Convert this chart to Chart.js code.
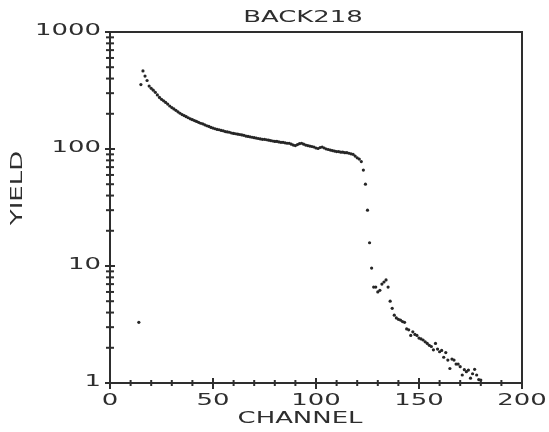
<!DOCTYPE html>
<html><head><meta charset="utf-8">
<script src="https://cdn.jsdelivr.net/npm/chart.js@4/dist/chart.umd.min.js"></script>
<style>html,body{margin:0;padding:0;background:#fff;overflow:hidden}</style>
</head><body>
<canvas id="c" width="549" height="432"></canvas>
<script>
const chartTitle = "BACK218";
const xTitle = "CHANNEL";
const yTitle = "YIELD";

const channels = [
 14,15,16,17,18,19,20,21,22,23,
 24,25,26,27,28,29,30,31,32,33,
 34,35,36,37,38,39,40,41,42,43,
 44,45,46,47,48,49,50,51,52,53,
 54,55,56,57,58,59,60,61,62,63,
 64,65,66,67,68,69,70,71,72,73,
 74,75,76,77,78,79,80,81,82,83,
 84,85,86,87,88,89,90,91,92,93,
 94,95,96,97,98,99,100,101,102,103,
 104,105,106,107,108,109,110,111,112,113,
 114,115,116,117,118,119,120,121,122,123,
 124,125,126,127,128,129,130,131,132,133,
 134,135,136,137,138,139,140,141,142,143,
 144,145,146,147,148,149,150,151,152,153,
 154,155,156,157,158,159,160,161,162,163,
 164,165,166,167,168,169,170,171,172,173,
 174,175,176,177,178,179,180
];
const yields = [
 3.3,355,465,420,385,345,330,318,305,290,
 276,266,258,250,242,233,226,220,214,208,
 202,197,193,189,185,181,178,175,172,169,
 166,164,161,158,156,153,151,149,147,146,
 144,143,141,140,139,137,136,135,134,133,
 132,131,129,128,127,126,125,124,123,122,
 121,121,120,119,118,117,116,116,115,114,
 114,113,112,112,110,108,107,109,111,112,
 110,108,107,106,105,104,102,101,103,104,
 102,100,99,98,97,96,95,95,94,94,
 93,93,92,91,90,87,84,82,78,66,
 50,30,15.8,9.6,6.6,6.6,6.0,6.2,7.0,7.3,
 7.6,6.6,5.0,4.35,3.8,3.6,3.5,3.45,3.35,3.3,
 2.9,2.85,2.55,2.74,2.6,2.55,2.42,2.38,2.33,2.25,
 2.18,2.1,2.05,1.92,2.18,1.95,1.85,1.9,1.66,1.82,
 1.57,1.33,1.6,1.57,1.45,1.45,1.38,1.17,1.3,1.25,
 1.29,1.1,1.2,1.31,1.17,1.07,1.06
];

const xTicks = [0,10,20,30,40,50,60,70,80,90,100,110,120,130,140,150,160,170,180,190,200];
const xTickLabels = [0,50,100,150,200];
const yTicks = [1,2,3,4,5,6,7,8,9,10,20,30,40,50,60,70,80,90,100,200,300,400,500,600,700,800,900,1000];
const yTickLabels = [1,10,100,1000];

const INK = '#2e2e2e';
const FONT = '16px "DejaVu Sans"';
const SX = 1.62;

function stretchText(ctx, text, x, y, align, rotate) {
  ctx.save();
  ctx.font = FONT;
  ctx.fillStyle = INK;
  ctx.textBaseline = 'middle';
  ctx.textAlign = align;
  ctx.translate(x, y);
  if (rotate) ctx.rotate(rotate);
  ctx.scale(SX, 1);
  ctx.fillText(text, 0, 0);
  ctx.restore();
}

const axesPlugin = {
  id: 'plotterAxes',
  afterDraw(chart) {
    const ctx = chart.ctx;
    const a = chart.chartArea;
    const xs = chart.scales.x, ys = chart.scales.y;
    ctx.save();
    ctx.strokeStyle = INK;
    ctx.lineWidth = 2;
    ctx.strokeRect(a.left, a.top, a.right - a.left, a.bottom - a.top);
    // x ticks
    xs.ticks.forEach(t => {
      const px = xs.getPixelForValue(t.value);
      const major = xTickLabels.includes(t.value);
      ctx.beginPath();
      ctx.moveTo(px, a.bottom - (major ? 5 : 3));
      ctx.lineTo(px, a.bottom + (major ? 6 : 3));
      ctx.stroke();
    });
    // y ticks
    ys.ticks.forEach(t => {
      const py = ys.getPixelForValue(t.value);
      const major = yTickLabels.includes(t.value);
      ctx.beginPath();
      ctx.moveTo(a.left - (major ? 5 : 4), py);
      ctx.lineTo(a.left + (major ? 5 : 4), py);
      ctx.stroke();
    });
    ctx.restore();
    xTickLabels.forEach(v => {
      stretchText(ctx, String(v), xs.getPixelForValue(v), a.bottom + 18, 'center');
    });
    yTickLabels.forEach(v => {
      stretchText(ctx, String(v), a.left - 9, ys.getPixelForValue(v) - 1, 'right');
    });
    stretchText(ctx, chartTitle, 303, 18, 'center');
    stretchText(ctx, xTitle, 300, 419, 'center');
    stretchText(ctx, yTitle, 18, 188, 'center', -Math.PI / 2);
  }
};

new Chart(document.getElementById('c'), {
  type: 'scatter',
  data: {
    datasets: [{
      data: channels.map((c, i) => ({ x: c, y: yields[i] })),
      pointRadius: 1.6,
      pointBackgroundColor: '#262626',
      pointBorderWidth: 0,
      showLine: false
    }]
  },
  options: {
    responsive: false,
    animation: false,
    devicePixelRatio: 1,
    layout: { padding: { left: 110, right: 27, top: 32, bottom: 49 } },
    plugins: { legend: { display: false }, tooltip: { enabled: false }, title: { display: false } },
    scales: {
      x: {
        type: 'linear', min: 0, max: 200,
        afterBuildTicks: s => { s.ticks = xTicks.map(v => ({ value: v })); },
        afterFit: s => { s.height = 0; },
        ticks: { display: false },
        grid: { display: false },
        border: { display: false }
      },
      y: {
        type: 'logarithmic', min: 1, max: 1000,
        afterBuildTicks: s => { s.ticks = yTicks.map(v => ({ value: v })); },
        afterFit: s => { s.width = 0; },
        ticks: { display: false },
        grid: { display: false },
        border: { display: false }
      }
    }
  },
  plugins: [axesPlugin]
});
</script>
</body></html>
